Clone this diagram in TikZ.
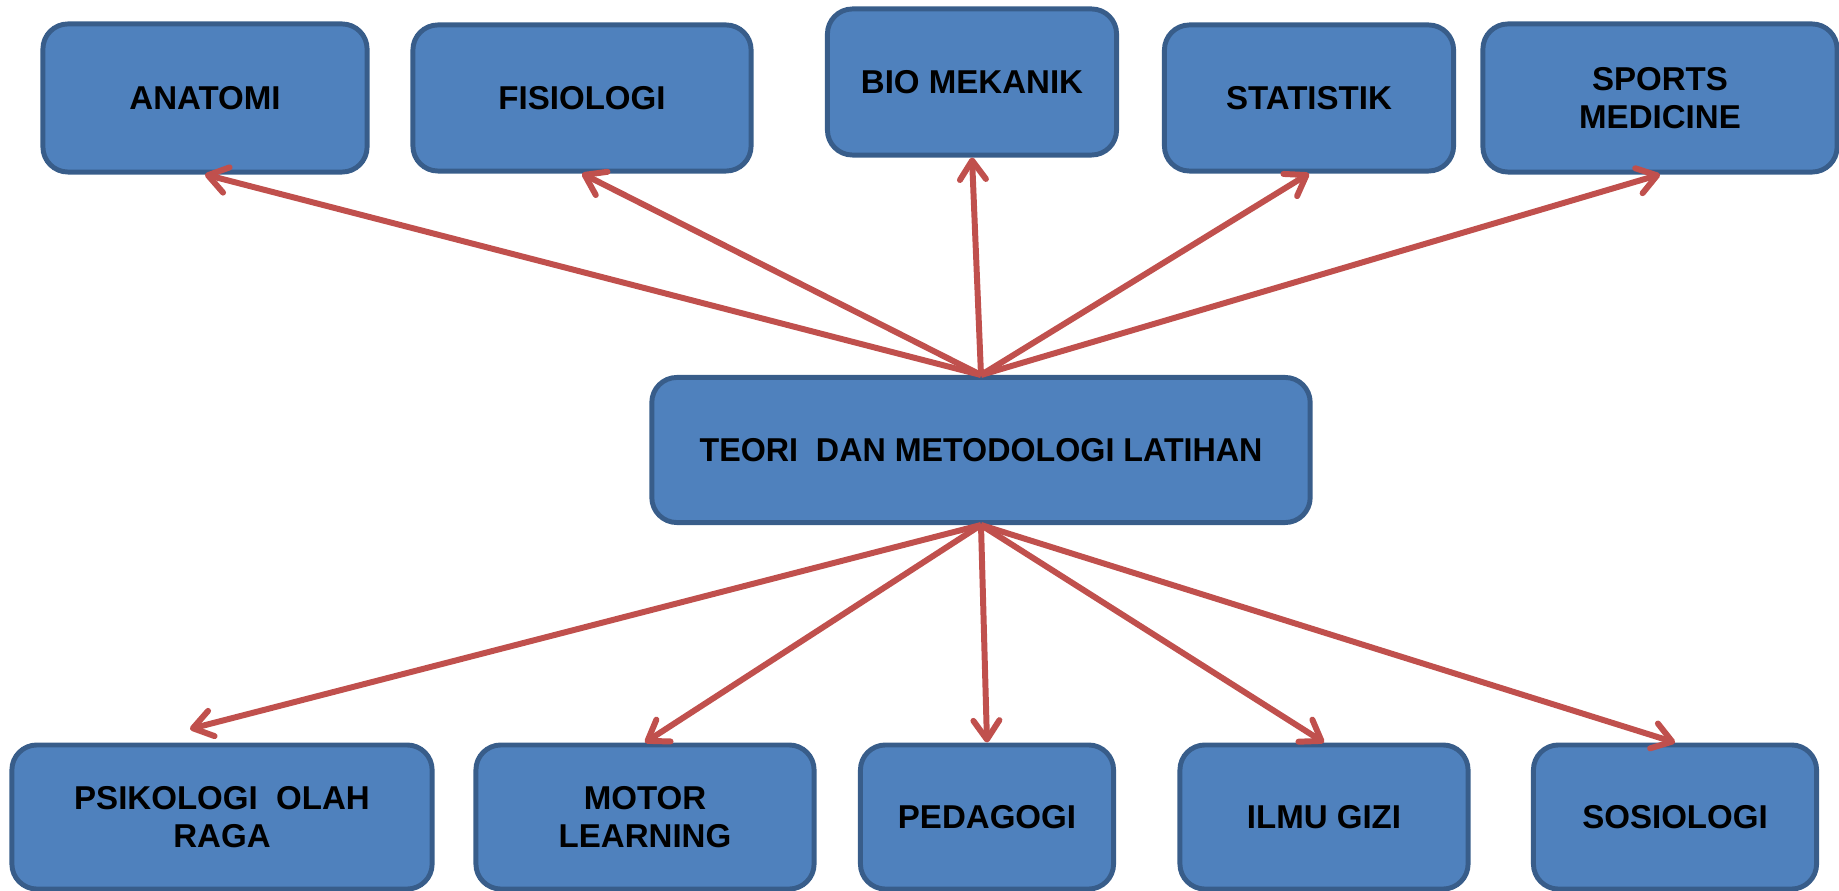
\documentclass[tikz,border=0pt]{standalone}
\usepackage{fontspec}
\setmainfont{Liberation Sans}
\usetikzlibrary{arrows.meta}
\definecolor{boxfill}{HTML}{4F81BD}
\definecolor{boxline}{HTML}{385D8A}
\definecolor{arr}{HTML}{C0504D}
\begin{document}
\begin{tikzpicture}[x=0.01cm,y=-0.01cm,
  box/.style={draw=boxline, fill=boxfill, line width=1.4pt, rounded corners=0.25cm,
    align=center, font=\fontsize{9.4}{11}\selectfont\bfseries, text=black, inner sep=0pt},
  link/.style={draw=arr, line width=1.7pt, -{Straight Barb[length=0.19cm,width=0.26cm,round]}}]
\useasboundingbox (0,0) rectangle (1839,891);
% top row
\node[box, minimum width=3.24cm, minimum height=1.48cm] (anat) at (205,98) {ANATOMI};
\node[box, minimum width=3.38cm, minimum height=1.46cm] (fis) at (582,98) {FISIOLOGI};
\node[box, minimum width=2.89cm, minimum height=1.46cm] (bio) at (972,82) {BIO MEKANIK};
\node[box, minimum width=2.89cm, minimum height=1.46cm] (stat) at (1309,98) {STATISTIK};
\node[box, minimum width=3.54cm, minimum height=1.48cm] (sport) at (1660,98) {SPORTS\\MEDICINE};
% center
\node[box, minimum width=6.58cm, minimum height=1.45cm] (ctr) at (981,450) {\scalebox{0.975}[1]{TEORI\ \ DAN METODOLOGI LATIHAN}};
% bottom row
\node[box, minimum width=4.20cm, minimum height=1.44cm] (psi) at (222,817) {PSIKOLOGI\ \ OLAH\\RAGA};
\node[box, minimum width=3.38cm, minimum height=1.44cm] (mot) at (645,817) {MOTOR\\LEARNING};
\node[box, minimum width=2.53cm, minimum height=1.44cm] (ped) at (987,817) {PEDAGOGI};
\node[box, minimum width=2.88cm, minimum height=1.44cm] (gizi) at (1324,817) {ILMU GIZI};
\node[box, minimum width=2.83cm, minimum height=1.44cm] (sos) at (1675,817) {SOSIOLOGI};
\coordinate (psiend) at (190,729);
% connectors
\draw[link] (ctr.north) -- (anat.south);
\draw[link] (ctr.north) -- (fis.south);
\draw[link] (ctr.north) -- (bio.south);
\draw[link] (ctr.north) -- (stat.south);
\draw[link] (ctr.north) -- (sport.south);
\draw[link] (ctr.south) -- (psiend);
\draw[link] (ctr.south) -- (mot.north);
\draw[link] (ctr.south) -- (ped.north);
\draw[link] (ctr.south) -- (gizi.north);
\draw[link] (ctr.south) -- (sos.north);
\end{tikzpicture}
\end{document}
